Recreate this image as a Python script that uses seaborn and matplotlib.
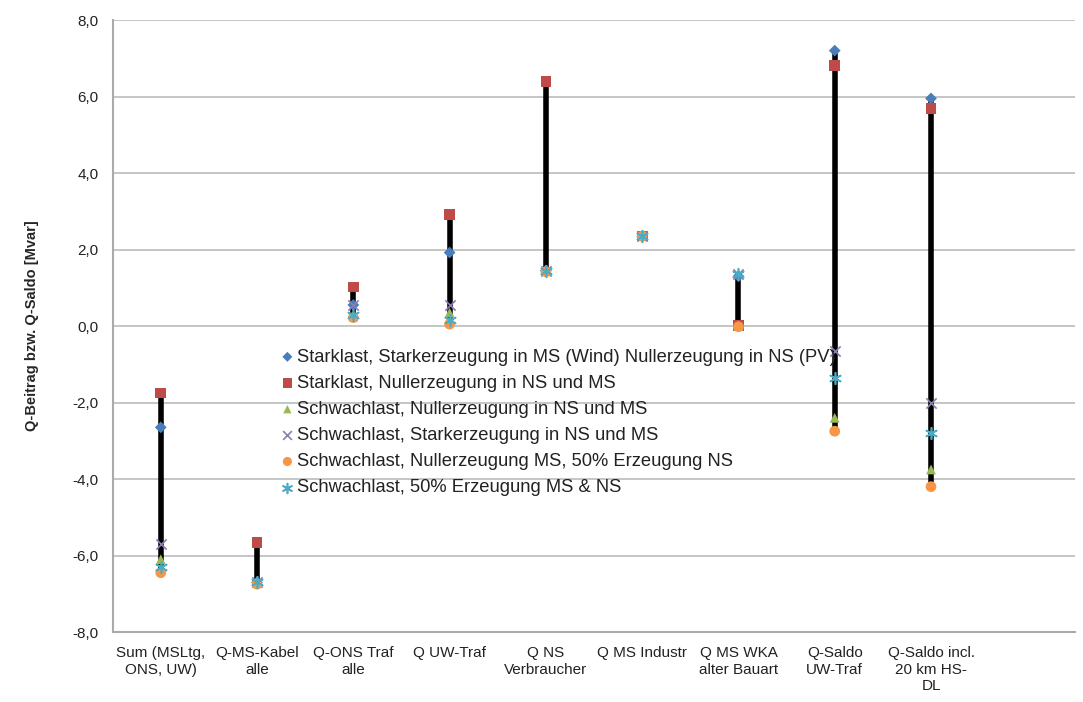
import numpy as np
import pandas as pd
import matplotlib
matplotlib.use("Agg")
import matplotlib.pyplot as plt
import seaborn as sns

categories = ["Sum (MSLtg,\nONS, UW)", "Q-MS-Kabel\nalle", "Q-ONS Traf\nalle", "Q UW-Traf",
              "Q NS\nVerbraucher", "Q MS Industr", "Q MS WKA\nalter Bauart", "Q-Saldo\nUW-Traf",
              "Q-Saldo incl.\n20 km HS-\nDL"]

series_names = [
    "Starklast, Starkerzeugung in MS (Wind) Nullerzeugung in NS (PV)",
    "Starklast, Nullerzeugung in NS und MS",
    "Schwachlast, Nullerzeugung in NS und MS",
    "Schwachlast, Starkerzeugung in NS und MS",
    "Schwachlast, Nullerzeugung MS, 50% Erzeugung NS",
    "Schwachlast, 50% Erzeugung MS & NS",
]

s_stark_wind = [-2.65, -6.70, 0.55, 1.92, 1.45, 2.35, 1.30, 7.20, 5.95]
s_stark_null = [-1.75, -5.65, 1.02, 2.92, 6.40, 2.35, 0.02, 6.82, 5.68]
s_schwach_null = [-6.10, -6.70, 0.25, 0.35, 1.45, 2.35, 0.00, -2.40, -3.75]
s_schwach_stark = [-5.70, -6.70, 0.55, 0.55, 1.45, 2.35, 1.35, -0.65, -2.00]
s_schwach_50ns = [-6.45, -6.75, 0.22, 0.05, 1.42, 2.35, -0.02, -2.75, -4.20]
s_schwach_50 = [-6.30, -6.70, 0.30, 0.15, 1.45, 2.35, 1.35, -1.35, -2.80]

yticks = [-8, -6, -4, -2, 0, 2, 4, 6, 8]

all_series = [s_stark_wind, s_stark_null, s_schwach_null, s_schwach_stark, s_schwach_50ns, s_schwach_50]
colors = ["#4A7EBB", "#BE4B48", "#98B954", "#8C7DB0", "#F79646", "#4BACC6"]
markers = ["D", "s", "^", "x", "o", (6, 2, 0)]
sizes = [36, 60, 50, 55, 60, 70]

sns.set_style("white")
plt.rcParams['font.family'] = ['Liberation Sans', 'DejaVu Sans']

fig = plt.figure(figsize=(10.83, 7.02), dpi=100)
ax = fig.add_axes([0.104, 0.0997, 0.889, 0.8718])

x = np.arange(len(categories))
arr = np.array(all_series)
ax.vlines(x, arr.min(axis=0), arr.max(axis=0), color="black", linewidth=4, zorder=2)

for name, vals, c, m, s in zip(series_names, all_series, colors, markers, sizes):
    df = pd.DataFrame({"x": x, "y": vals})
    kw = dict(edgecolor="none") if m not in ("x", (6, 2, 0)) else dict(linewidth=1.2)
    sns.scatterplot(data=df, x="x", y="y", ax=ax, color=c, marker=m, s=s,
                    label=name, zorder=3, **kw)

ax.set_xlim(-0.5, 9.5)
ax.set_ylim(-8, 8)
ax.set_yticks(yticks)
ax.set_yticklabels([f"{v:.1f}".replace(".", ",") for v in yticks], fontsize=11, color="#222222")
ax.set_xticks(x)
ax.set_xticklabels(categories, fontsize=11, color="#222222", linespacing=1.25)
ax.tick_params(axis="x", length=0, pad=10)
ax.tick_params(axis="y", length=0, pad=10)
ax.set_xlabel("")
ax.set_ylabel("Q-Beitrag bzw. Q-Saldo [Mvar]", fontsize=10.5, fontweight="bold", labelpad=24)
ax.yaxis.grid(True, color="#BBBBBB", linewidth=1.2)
ax.set_axisbelow(True)
for side in ["top", "right"]:
    ax.spines[side].set_visible(False)
for side in ["left", "bottom"]:
    ax.spines[side].set_color("#AAAAAA")
    ax.spines[side].set_linewidth(1.5)

leg = ax.legend(loc="upper left", bbox_to_anchor=(0.172, 0.463), frameon=False,
                fontsize=13.2, handletextpad=0.0, borderaxespad=0, labelspacing=0.5,
                markerscale=0.85, handlelength=1.0, borderpad=0)
for t in leg.get_texts():
    t.set_color("#222222")

fig.savefig("out.png", dpi=100)
